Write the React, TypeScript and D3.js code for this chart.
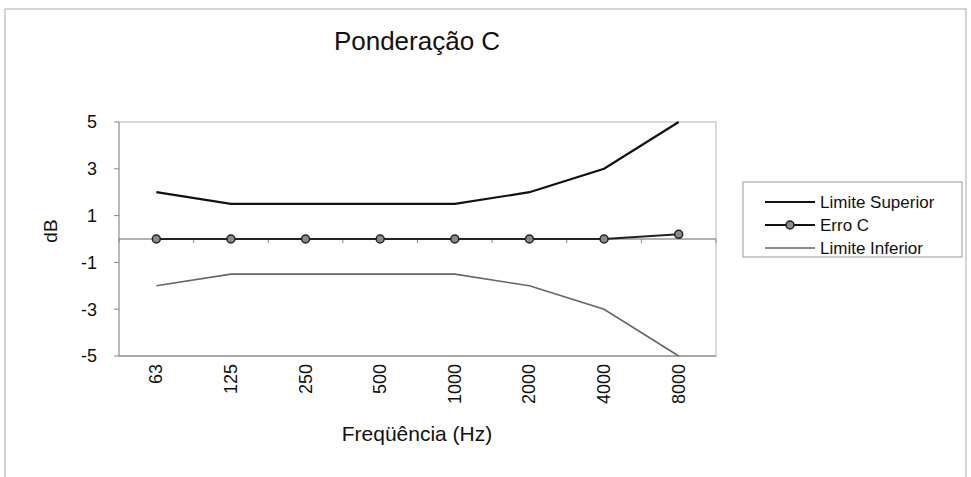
import React from "react";
import * as d3 from "d3";

// frequency bands (Hz)
const bands = ["63", "125", "250", "500", "1000", "2000", "4000", "8000"];
const limiteSuperior = [2, 1.5, 1.5, 1.5, 1.5, 2, 3, 5];
const erroC = [0, 0, 0, 0, 0, 0, 0, 0.2];
const limiteInferior = [-2, -1.5, -1.5, -1.5, -1.5, -2, -3, -5];
const yTicks = [5, 3, 1, -1, -3, -5];
const legendNames = ["Limite Superior", "Erro C", "Limite Inferior"];

const W = 971;
const H = 477;
const PLOT = { left: 119, right: 716, top: 122, bottom: 356 };
const FONT = "'Liberation Sans', Arial, sans-serif";

export default function App() {
  const x = d3
    .scalePoint<string>()
    .domain(bands)
    .range([PLOT.left, PLOT.right])
    .padding(0.5);
  const y = d3.scaleLinear().domain([-5, 5]).range([PLOT.bottom, PLOT.top]);
  const step = x.step();

  const line = d3
    .line<number>()
    .x((_, i) => x(bands[i]) as number)
    .y((d) => y(d));

  // boundaries between categories, for the little tick marks
  const bounds = d3.range(bands.length + 1).map((i) => PLOT.left + i * step);

  const legendX = 743;
  const legendY = 182;
  const rowY = [202, 225, 248];

  return (
    <svg
      width={W}
      height={H}
      style={{ position: "absolute", left: 0, top: 0, background: "#fff" }}
      fontFamily={FONT}
    >
      {/* chart frame */}
      <rect x={5} y={9} width={961} height={470} fill="none" stroke="#aaa" strokeWidth={1} />

      <text x={417} y={50} textAnchor="middle" fontSize={26} fill="#111">
        Ponderação C
      </text>

      {/* plot area border */}
      <rect
        x={PLOT.left}
        y={PLOT.top}
        width={PLOT.right - PLOT.left}
        height={PLOT.bottom - PLOT.top}
        fill="none"
        stroke="#b5b5b5"
        strokeWidth={1}
      />
      {/* bottom axis line */}
      <line x1={PLOT.left} x2={PLOT.right} y1={PLOT.bottom} y2={PLOT.bottom} stroke="#777" />
      {/* left axis + ticks */}
      <line x1={PLOT.left} x2={PLOT.left} y1={PLOT.top} y2={PLOT.bottom} stroke="#999" />
      {yTicks.map((t) => (
        <g key={t}>
          <line x1={PLOT.left - 5} x2={PLOT.left} y1={y(t)} y2={y(t)} stroke="#888" />
          <text
            x={97}
            y={y(t)}
            dy="0.35em"
            textAnchor="end"
            fontSize={18}
            fill="#111"
          >
            {t}
          </text>
        </g>
      ))}

      {/* zero line with category tick marks */}
      <line x1={PLOT.left} x2={PLOT.right} y1={y(0)} y2={y(0)} stroke="#666" strokeWidth={1} />
      {bounds.map((b, i) => (
        <line key={i} x1={b} x2={b} y1={y(0)} y2={y(0) + 4} stroke="#888" />
      ))}

      {/* x tick labels */}
      {bands.map((b) => (
        <text
          key={b}
          transform={`translate(${(x(b) as number) + 6},${PLOT.bottom + 8}) rotate(-90)`}
          textAnchor="end"
          fontSize={18}
          fill="#111"
        >
          {b}
        </text>
      ))}

      <text x={417} y={441} textAnchor="middle" fontSize={21} fill="#111">
        Freqüência (Hz)
      </text>
      <text
        transform={`translate(57,${(PLOT.top + PLOT.bottom) / 2 - 8}) rotate(-90)`}
        textAnchor="middle"
        fontSize={19}
        fill="#111"
      >
        dB
      </text>

      {/* series */}
      <path d={line(limiteInferior) ?? ""} fill="none" stroke="#666" strokeWidth={1.6} />
      <path d={line(limiteSuperior) ?? ""} fill="none" stroke="#111" strokeWidth={2.2} />
      <path d={line(erroC) ?? ""} fill="none" stroke="#222" strokeWidth={2} />
      {erroC.map((v, i) => (
        <circle
          key={i}
          cx={x(bands[i]) as number}
          cy={y(v)}
          r={4}
          fill="#8a8a8a"
          stroke="#222"
          strokeWidth={1.5}
        />
      ))}

      {/* legend */}
      <rect x={legendX} y={legendY} width={219} height={75} fill="#fff" stroke="#999" />
      {legendNames.map((name, i) => (
        <g key={name}>
          <line
            x1={765}
            x2={815}
            y1={rowY[i]}
            y2={rowY[i]}
            stroke={i === 2 ? "#666" : "#111"}
            strokeWidth={i === 2 ? 1.6 : 2}
          />
          {i === 1 && (
            <circle cx={790} cy={rowY[i]} r={4} fill="#8a8a8a" stroke="#222" strokeWidth={1.5} />
          )}
          <text x={820} y={rowY[i]} dy="0.35em" fontSize={17} fill="#111">
            {name}
          </text>
        </g>
      ))}
    </svg>
  );
}
